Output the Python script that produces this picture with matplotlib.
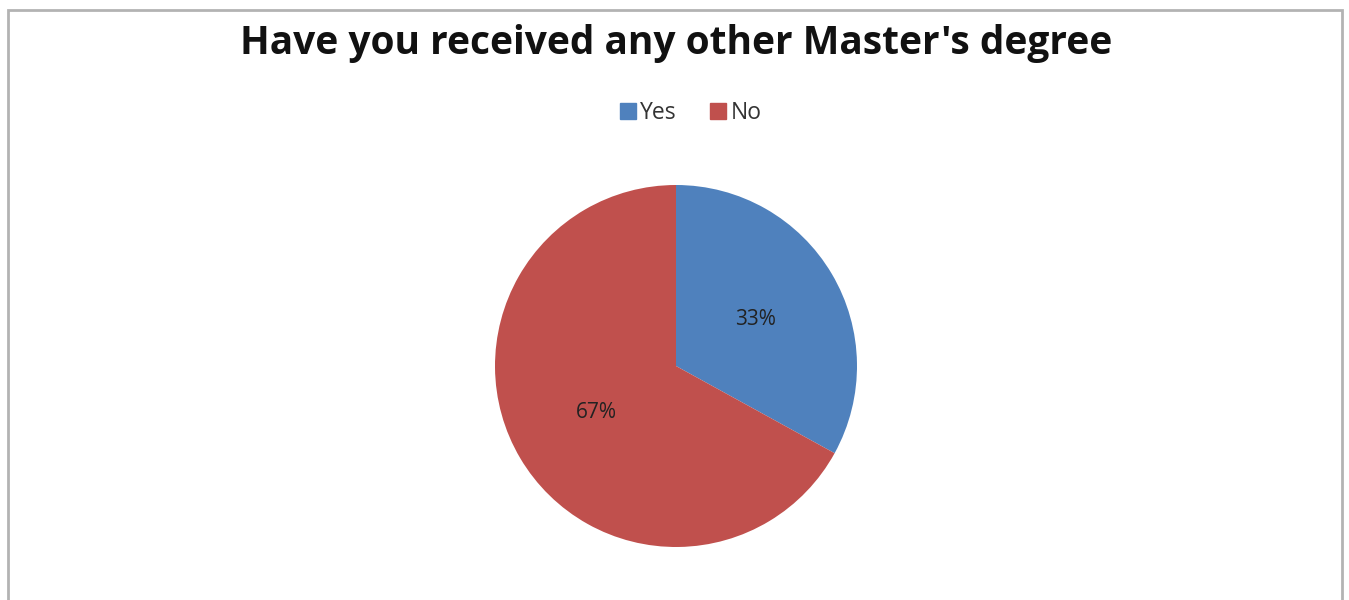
import matplotlib
matplotlib.use("Agg")
import matplotlib.pyplot as plt
from matplotlib.patches import Rectangle
from matplotlib.lines import Line2D

categories = ["Yes", "No"]
values = [33, 67]
colors = ["#4F81BD", "#C0504D"]
title = "Have you received any other Master's degree"

W, H = 1349, 600
fig = plt.figure(figsize=(W / 100, H / 100), dpi=100)
fig.patch.set_facecolor("white")

# outer border
fig.patches.append(Rectangle((7.5 / W, -0.05), (1341.5 - 7.5) / W, 1.05 - 9.5 / H,
                             transform=fig.transFigure, fill=False,
                             edgecolor="#b3b3b3", linewidth=2, clip_on=False))

cx, cy, r = 676, 366, 181
ax = fig.add_axes([(cx - r) / W, (H - cy - r) / H, 2 * r / W, 2 * r / H])
ax.pie(values, colors=colors, startangle=90, counterclock=False,
       autopct=lambda p: f"{p:.0f}%", pctdistance=0.51,
       textprops=dict(fontsize=15, color="#222222", family="Open Sans"),
       wedgeprops=dict(linewidth=0))
ax.set_xlim(-1, 1)
ax.set_ylim(-1, 1)
ax.set_aspect("auto")

fig.text(cx / W, 1 - 54 / H, title, ha="center", va="baseline",
         fontsize=28, fontweight="bold", family="Open Sans", color="#111111")

handles = [Line2D([0], [0], marker="s", linestyle="", markersize=12,
                  markerfacecolor=c, markeredgecolor=c) for c in colors]
fig.legend(handles, categories, loc="center", bbox_to_anchor=(689 / W, 1 - 113 / H),
           ncol=2, frameon=False, handletextpad=0.05, handlelength=1.0,
           columnspacing=1.3, prop=dict(family="Open Sans", size=16.5),
           labelcolor="#333333")

fig.savefig("out.png", dpi=100)
